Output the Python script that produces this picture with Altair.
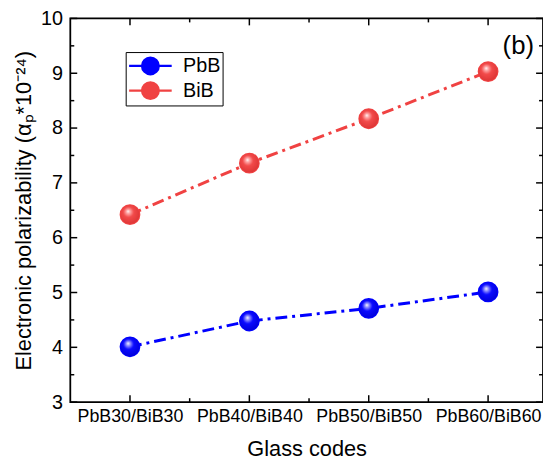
import json
import altair as alt
import pandas as pd

# ---- data ----
codes = ["PbB30/BiB30", "PbB40/BiB40", "PbB50/BiB50", "PbB60/BiB60"]
pbb = [4.01, 4.48, 4.71, 5.01]
bib = [6.42, 7.36, 8.17, 9.03]
series = ["PbB", "BiB"]
colors = ["#0000ff", "#f04242"]
y_major = [3, 4, 5, 6, 7, 8, 9, 10]
y_minor = [3.5, 4.5, 5.5, 6.5, 7.5, 8.5, 9.5]
x_major = [0, 1, 2, 3]
x_minor = [0.5, 1.5, 2.5]

W, H = 478, 388
FONT = "Liberation Sans"

rows = []
for i, c in enumerate(codes):
    rows.append({"idx": i, "code": c, "series": "PbB", "value": pbb[i]})
    rows.append({"idx": i, "code": c, "series": "BiB", "value": bib[i]})
df = pd.DataFrame(rows)

label_expr = json.dumps(codes) + "[datum.value]"

x_enc = alt.X(
    "idx:Q",
    scale=alt.Scale(domain=[-0.5, 3.46], nice=False, zero=False),
    axis=alt.Axis(
        values=x_major, labelExpr=label_expr, title="Glass codes",
        ticks=False, domain=False, grid=False, labelPadding=6,
        labelFontSize=18, titleFontSize=22, titlePadding=13,
        labelFont=FONT, titleFont=FONT, labelColor="black", titleColor="black",
        titleFontWeight="normal",
    ),
)
y_enc = alt.Y(
    "value:Q",
    scale=alt.Scale(domain=[3, 10], nice=False, zero=False),
    axis=alt.Axis(
        values=y_major, format="d", title="Electronic polarizability (αₚ*10⁻²⁴)",
        ticks=False, domain=False, grid=False, labelPadding=8,
        labelFontSize=20, titleFontSize=22, titlePadding=5,
        labelFont=FONT, titleFont=FONT, labelColor="black", titleColor="black",
        titleFontWeight="normal",
    ),
)

base = alt.Chart(df)

lines = [
    base.transform_filter(alt.datum.series == s)
    .mark_line(color=col, strokeWidth=3, strokeDash=[12, 5, 3, 5])
    .encode(x=x_enc, y=y_enc)
    for s, col in zip(series, colors)
]

legend_path = (
    "M-2.05,0L-0.81,0M0.81,0L2.05,0"
    "M-0.81,0A0.81,0.81,0,1,1,0.81,0A0.81,0.81,0,1,1,-0.81,0Z"
)
leg = dict(
    title=None, orient="none", legendX=56, legendY=34,
    symbolType=legend_path, symbolSize=441, symbolStrokeWidth=2.2,
    labelFontSize=20, labelFont=FONT, labelColor="black",
    labelExpr="datum.label + '\u00a0\u00a0'",
    strokeColor="black", fillColor="white", padding=2, rowPadding=-2,
    labelOffset=21, symbolOffset=11,
)
scale = alt.Scale(domain=series, range=colors)
legend_pts = base.mark_point(filled=True, opacity=1, size=361).encode(
    x=x_enc, y=y_enc,
    fill=alt.Fill("series:N", scale=scale, legend=alt.Legend(**leg)),
    stroke=alt.Stroke("series:N", scale=scale, legend=alt.Legend(**leg)),
)


def ball(c_light, c_mid, c_dark):
    return alt.RadialGradient(
        gradient="radial",
        x1=0.4, y1=0.32, r1=0.0,
        x2=0.45, y2=0.42, r2=0.62,
        stops=[
            alt.GradientStop(color="#ffffff", offset=0.0),
            alt.GradientStop(color=c_light, offset=0.16),
            alt.GradientStop(color=c_mid, offset=0.45),
            alt.GradientStop(color=c_dark, offset=1.0),
        ],
    )


balls = [
    base.transform_filter(alt.datum.series == "PbB")
    .mark_circle(size=361, opacity=1, fill=ball("#9a9aff", "#0a0aff", "#0000d8"))
    .encode(x=x_enc, y=y_enc),
    base.transform_filter(alt.datum.series == "BiB")
    .mark_circle(size=361, opacity=1, fill=ball("#ffaaaa", "#f24a4a", "#dc3434"))
    .encode(x=x_enc, y=y_enc),
]

# ---- inward (mirrored) ticks ----
ymaj = pd.DataFrame({"value": y_major})
ymin = pd.DataFrame({"value": y_minor})
xmaj = pd.DataFrame({"idx": x_major})
xmin = pd.DataFrame({"idx": x_minor})
tk = dict(color="black", strokeWidth=1.5)
ticks = [
    alt.Chart(ymaj).mark_rule(**tk).encode(y="value:Q", x=alt.value(0), x2=alt.value(7)),
    alt.Chart(ymaj).mark_rule(**tk).encode(y="value:Q", x=alt.value(W - 7), x2=alt.value(W)),
    alt.Chart(ymin).mark_rule(**tk).encode(y="value:Q", x=alt.value(0), x2=alt.value(4)),
    alt.Chart(ymin).mark_rule(**tk).encode(y="value:Q", x=alt.value(W - 4), x2=alt.value(W)),
    alt.Chart(xmaj).mark_rule(**tk).encode(x="idx:Q", y=alt.value(H), y2=alt.value(H - 7)),
    alt.Chart(xmaj).mark_rule(**tk).encode(x="idx:Q", y=alt.value(0), y2=alt.value(7)),
    alt.Chart(xmin).mark_rule(**tk).encode(x="idx:Q", y=alt.value(H), y2=alt.value(H - 4)),
    alt.Chart(xmin).mark_rule(**tk).encode(x="idx:Q", y=alt.value(0), y2=alt.value(4)),
]

panel_label = alt.Chart(pd.DataFrame({"t": ["(b)"]})).mark_text(
    fontSize=26, font=FONT, color="black", align="center", baseline="middle"
).encode(text="t:N", x=alt.value(453), y=alt.value(28))

chart = (
    alt.layer(*ticks, *lines, legend_pts, *balls, panel_label)
    .properties(
        width=W, height=H,
        autosize=alt.AutoSizeParams(type="none"),
        padding={"left": 63, "top": 8, "right": 0, "bottom": 59},
    )
    .configure_view(stroke="black", strokeWidth=1.8)
)

chart.save("out.html", embed_options={"renderer": "svg", "actions": False})
